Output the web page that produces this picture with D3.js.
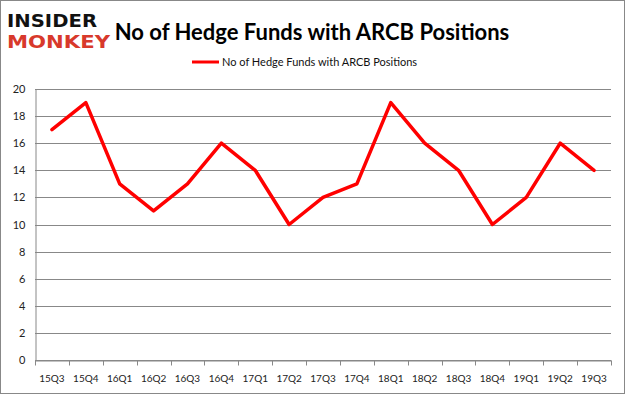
<!DOCTYPE html>
<html>
<head>
<meta charset="utf-8">
<script src="https://cdn.jsdelivr.net/npm/d3@7"></script>
<style>
  body { margin: 0; background: #fff; }
  svg { display: block; font-family: "Lato", "Open Sans", sans-serif; }
</style>
</head>
<body>
<script>
'use strict';

// chart data
const quarters = ["15Q3", "15Q4", "16Q1", "16Q2", "16Q3", "16Q4", "17Q1", "17Q2", "17Q3",
  "17Q4", "18Q1", "18Q2", "18Q3", "18Q4", "19Q1", "19Q2", "19Q3"];
const fundCounts = [17, 19, 13, 11, 13, 16, 14, 10, 12, 13, 19, 16, 14, 10, 12, 16, 14];
const yTicks = [0, 2, 4, 6, 8, 10, 12, 14, 16, 18, 20];
const seriesName = "No of Hedge Funds with ARCB Positions";

const width = 625, height = 394;
const plot = { left: 35, right: 611, top: 89, bottom: 360 };

const svg = d3.select("body").append("svg")
  .attr("width", width)
  .attr("height", height);

// outer border
svg.append("rect")
  .attr("x", 0.5).attr("y", 0.5)
  .attr("width", width - 1).attr("height", height - 1)
  .attr("fill", "#fff")
  .attr("stroke", "#888");

// logo, two stacked words
svg.append("text")
  .attr("x", 7).attr("y", 27)
  .attr("font-family", "DejaVu Sans")
  .attr("font-weight", "bold")
  .attr("font-size", 17)
  .attr("textLength", 90)
  .attr("lengthAdjust", "spacingAndGlyphs")
  .attr("fill", "#111")
  .text("INSIDER");
svg.append("text")
  .attr("x", 7).attr("y", 48)
  .attr("font-family", "DejaVu Sans")
  .attr("font-weight", "bold")
  .attr("font-size", 17)
  .attr("textLength", 103)
  .attr("lengthAdjust", "spacingAndGlyphs")
  .attr("fill", "#d8392b")
  .text("MONKEY");

// title
svg.append("text")
  .attr("x", 312).attr("y", 40)
  .attr("text-anchor", "middle")
  .attr("font-weight", "bold")
  .attr("font-size", 22)
  .attr("fill", "#000")
  .text("No of Hedge Funds with ARCB Positions");

// legend
svg.append("line")
  .attr("x1", 192).attr("x2", 219)
  .attr("y1", 62).attr("y2", 62)
  .attr("stroke", "#ff0000")
  .attr("stroke-width", 3);
svg.append("text")
  .attr("x", 222).attr("y", 66)
  .attr("font-size", 11)
  .attr("fill", "#111")
  .text(seriesName);

// scales
const x = d3.scaleBand()
  .domain(quarters)
  .range([plot.left, plot.right]);

const y = d3.scaleLinear()
  .domain([0, 20])
  .range([plot.bottom, plot.top]);

// gridlines
svg.append("g")
  .selectAll("line")
  .data(yTicks)
  .join("line")
  .attr("x1", plot.left).attr("x2", plot.right)
  .attr("y1", d => Math.round(y(d)) + 0.5)
  .attr("y2", d => Math.round(y(d)) + 0.5)
  .attr("stroke", "#888")
  .attr("stroke-width", 1);

// y axis
const yAxis = svg.append("g")
  .attr("transform", `translate(${plot.left + 0.5},0)`)
  .call(d3.axisLeft(y).tickValues(yTicks).tickSize(0).tickPadding(10));
yAxis.select(".domain").attr("stroke", "#888");
yAxis.selectAll("text")
  .attr("font-family", "Lato, sans-serif")
  .attr("font-size", 11)
  .attr("fill", "#222");

// x axis
const xAxis = svg.append("g")
  .attr("transform", `translate(0,${Math.round(y(0)) + 0.5})`)
  .call(d3.axisBottom(x).tickSize(0).tickPadding(14));
xAxis.select(".domain").attr("stroke", "#888");
xAxis.selectAll("text")
  .attr("font-family", "Lato, sans-serif")
  .attr("font-size", 10)
  .attr("fill", "#222");

// tick marks between categories
const edges = quarters.map(q => x(q)).concat([plot.right]);
xAxis.selectAll(".edge")
  .data(edges)
  .join("line")
  .attr("class", "edge")
  .attr("x1", d => Math.round(d) + 0.5)
  .attr("x2", d => Math.round(d) + 0.5)
  .attr("y1", 0).attr("y2", 5)
  .attr("stroke", "#888");

// series line
const line = d3.line()
  .x((d, i) => x(quarters[i]) + x.bandwidth() / 2)
  .y(d => y(d));

svg.append("path")
  .datum(fundCounts)
  .attr("d", line)
  .attr("fill", "none")
  .attr("stroke", "#ff0000")
  .attr("stroke-width", 3.5)
  .attr("stroke-linejoin", "round")
  .attr("stroke-linecap", "round");
</script>
</body>
</html>
